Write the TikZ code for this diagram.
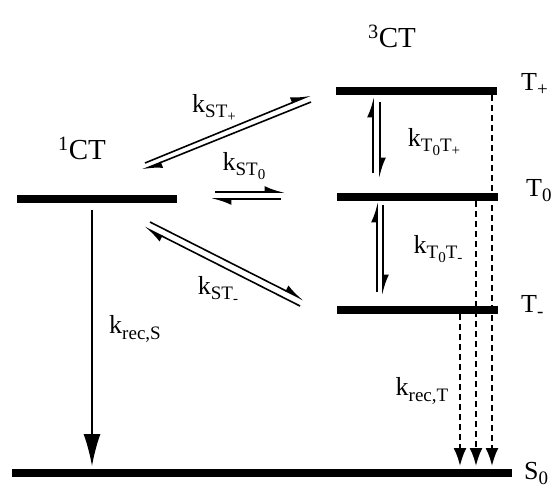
\documentclass[tikz,border=0pt]{standalone}
\usepackage{fontspec}
\setmainfont{Liberation Serif}
\usetikzlibrary{arrows.meta}
\usetikzlibrary{calc}

\newcommand{\subA}[1]{\raisebox{-0.22em}{\fontsize{19}{20}\selectfont#1}}
\newcommand{\subB}[1]{\raisebox{-0.2em}{\fontsize{15}{16}\selectfont#1}}

\tikzset{
  level/.style={line width=8pt},
  rate/.style={line width=1.6pt,-{Latex[harpoon,length=17pt,width=12pt]}},
  recS/.style={line width=1.5pt,-{Latex[length=32pt,width=17pt]}},
  recT/.style={line width=2.2pt,dash pattern=on 6pt off 4pt,-{Latex[length=18pt,width=13pt]}},
  lbl/.style={font=\fontsize{26}{30}\selectfont,inner sep=0pt},
  big/.style={font=\fontsize{29}{34}\selectfont,inner sep=0pt}
}

\begin{document}
\begin{tikzpicture}[x=1pt,y=-1pt]
\useasboundingbox (0,0) rectangle (556,488);

% levels def
\coordinate (S1a) at ( 17,199);
\coordinate (S1b) at (177,199);
\coordinate (TPa) at (336, 91);
\coordinate (TPb) at (497, 91);
\coordinate (TZa) at (337,197);
\coordinate (TZb) at (498,197);
\coordinate (TMa) at (337,310);
\coordinate (TMb) at (498,310);
\coordinate (S0a) at ( 12,473);
\coordinate (S0b) at (512,473);

% levels
\draw[level] (S1a) -- (S1b);
\draw[level] (TPa) -- (TPb);
\draw[level] (TZa) -- (TZb);
\draw[level] (TMa) -- (TMb);
\draw[level] (S0a) -- (S0b);

% level labels
\node[big] (singlet) at (82,148) {\textsuperscript{1}CT};
\node[big] (triplet) at (392,36) {\textsuperscript{3}CT};
\node[lbl,anchor=base west] (Tplus) at (521,90) {T\subA{+}};
\node[lbl,anchor=base west] (Tzero) at (526,196) {T\subA{0}};
\node[lbl,anchor=base west] (Tminus) at (521,312) {T\subA{-}};
\node[lbl,anchor=base west] (Szero) at (524,479) {S\subA{0}};

% S-T+ pair
\coordinate (a1) at (145,163);
\coordinate (a2) at (311, 95);
\coordinate (a3) at (311,102);
\coordinate (a4) at (142,170);
\draw[rate] (a1) -- (a2);
\draw[rate] (a3) -- (a4);
\node[lbl] (kSTp) at (214,108) {k\subA{ST\subB{+}}};

% S-T0 pair
\coordinate (b1) at (215,192);
\coordinate (b2) at (285,192);
\coordinate (b3) at (281,199);
\coordinate (b4) at (211,199);
\draw[rate] (b1) -- (b2);
\draw[rate] (b3) -- (b4);
\node[lbl] (kSTz) at (244,166) {k\subA{ST\subB{0}}};

% S-T- pair
\coordinate (c1) at (150,222);
\coordinate (c2) at (304,300);
\coordinate (c3) at (300,306);
\coordinate (c4) at (144,227);
\draw[rate] (c1) -- (c2);
\draw[rate] (c3) -- (c4);
\node[lbl] (kSTm) at (218,290) {k\subA{ST\subB{-}}};

% T0-T+ and T0-T- pairs
\coordinate (d1) at (373,173);
\coordinate (d2) at (373, 97);
\coordinate (d3) at (380,102);
\coordinate (d4) at (380,178);
\draw[rate] (d1) -- (d2);
\draw[rate] (d3) -- (d4);
\node[lbl] (kTTp) at (434,142) {k\subA{T\subB{0}T\subB{+}}};
\coordinate (e1) at (377,292);
\coordinate (e2) at (377,202);
\coordinate (e3) at (383,205);
\coordinate (e4) at (383,295);
\draw[rate] (e1) -- (e2);
\draw[rate] (e3) -- (e4);
\node[lbl] (kTTm) at (438,249) {k\subA{T\subB{0}T\subB{-}}};

% recombination
\coordinate (f1) at (92,210);
\coordinate (f2) at (92,466);
\draw[recS] (f1) -- (f2);
\node[lbl] (krecS) at (135,329) {k\subA{rec,S}};

\coordinate (g1) at (492, 95);
\coordinate (g2) at (476,201);
\coordinate (g3) at (460,314);
\draw[recT] (g1) -- (g1 |- f2);
\draw[recT] (g2) -- (g2 |- f2);
\draw[recT] (g3) -- (g3 |- f2);
\node[lbl] (krecT) at (422,391) {k\subA{rec,T}};
\end{tikzpicture}
\end{document}
